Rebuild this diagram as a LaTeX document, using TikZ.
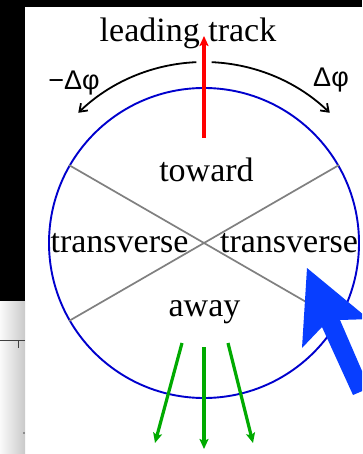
\documentclass[tikz,border=0pt]{standalone}
\usepackage{fontspec}
\setmainfont{Liberation Serif}
\newfontfamily\labsans{Liberation Sans}
\usetikzlibrary{arrows.meta,calc}
\definecolor{circblue}{RGB}{0,0,205}
\definecolor{curblue}{RGB}{8,62,255}
\definecolor{grn}{RGB}{0,170,0}
\definecolor{sepgray}{RGB}{128,128,128}
\tikzset{
  lab/.style={anchor=base,inner sep=0pt,font=\fontsize{34}{40}\selectfont},
  dlab/.style={anchor=base,inner sep=0pt,font=\labsans\fontsize{27}{30}\selectfont},
  sep/.style={draw=sepgray,line width=1.7pt},
  redarr/.style={draw=red,line width=3.2pt,-{Stealth[length=10pt,width=9pt,inset=2pt]}},
  grnarr/.style={draw=grn,line width=3.2pt,-{Stealth[length=10pt,width=9pt,inset=2pt]}},
  rotarr/.style={draw=black,line width=1.8pt,-{Straight Barb[length=7pt,width=10pt]}}
}
\begin{document}
\begin{tikzpicture}[x=1pt,y=-1pt]
\useasboundingbox (0,0) rectangle (362,454);
\clip (0,0) rectangle (362,454);
% screenshot background
\fill[white] (0,0) rectangle (362,454);
\fill[black] (0,0) rectangle (362,7);
\fill[black] (0,0) rectangle (25,301);
\shade[left color=gray!4,right color=gray!42] (0,301) rectangle (25,454);
\draw[black!75,line width=1pt] (0,340) -- (25,340);
\draw[black!75,line width=1pt] (18,340) -- (18,348);
\fill[black!70] (24,433) circle (0.8);
% circle
\coordinate (o) at (204,243);
\node[circle,draw=circblue,line width=1.9pt,minimum size=310pt,inner sep=0pt] (c) at (o) {};
\draw[sep] (c.150) -- (c.-30);
\draw[sep] (c.30) -- (c.210);
% texts
\node[lab] (lt) at (188,42) {leading track};
\node[lab] (tw) at (206.5,182) {toward};
\node[lab] (tl) at (119.5,252) {transverse};
\node[lab] (tr) at (289,252) {transverse};
\node[lab] (aw) at (204.5,316) {away};
\node[dlab] (dm) at (74,90) {−Δφ};
\node[dlab] (dp) at (331,87) {Δφ};
% rotation arcs
\coordinate (al) at ($(o)+(92.4:181pt)$);
\coordinate (ar) at ($(o)+(87.6:181pt)$);
\draw[rotarr] (al) arc[start angle=92.4,end angle=134,radius=181pt];
\draw[rotarr] (ar) arc[start angle=87.6,end angle=46,radius=181pt];
% red arrow
\coordinate (rs) at (204,138);
\coordinate (re) at (204,36);
\draw[redarr] (rs) -- (re);
% green arrows
\coordinate (g1s) at (182,343);
\coordinate (g1e) at (155,443);
\coordinate (g2s) at (204,347);
\coordinate (g2e) at (204,449);
\coordinate (g3s) at (228,343);
\coordinate (g3e) at (253,443);
\draw[grnarr] (g1s) -- (g1e);
\draw[grnarr] (g2s) -- (g2e);
\draw[grnarr] (g3s) -- (g3e);
% mouse cursor
\fill[curblue] (307,268) -- (302,348) -- (322,327) -- (353,395) -- (369.4,388) -- (340,320) -- (368.8,319.1) -- cycle;
\end{tikzpicture}
\end{document}
